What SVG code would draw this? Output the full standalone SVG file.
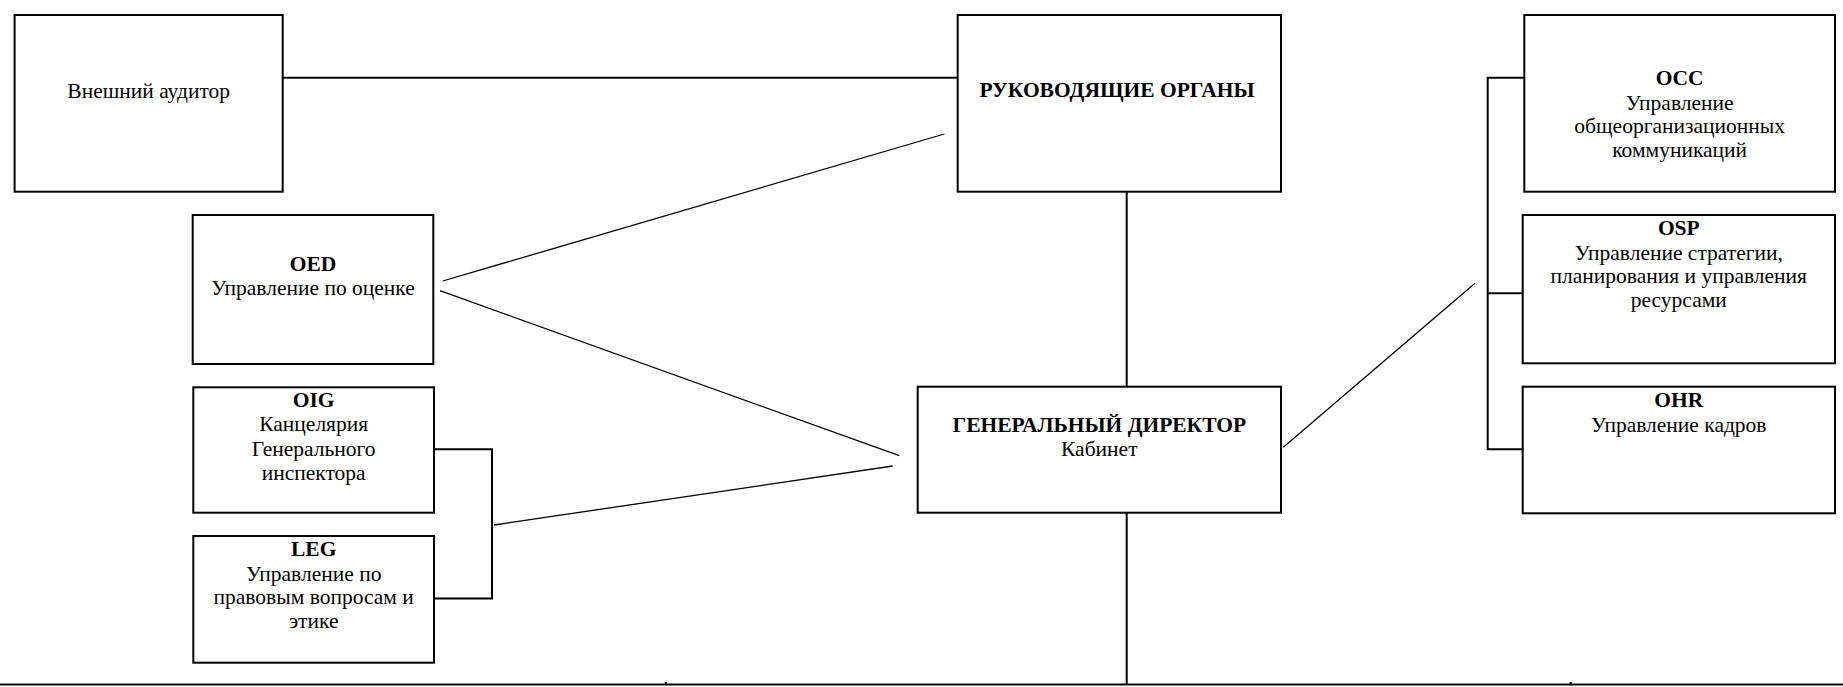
<svg xmlns="http://www.w3.org/2000/svg" width="1843" height="687" viewBox="0 0 1843 687">
<style>
.box{fill:#fff;stroke:#000;stroke-width:2}
.ln{fill:none;stroke:#000;stroke-width:2}
.dg{fill:none;stroke:#000;stroke-width:1.3}
.t{font-family:'Liberation Serif','Times New Roman',serif;font-size:21.5px;fill:#000;text-anchor:middle}
.b{font-weight:bold}
</style>
<rect width="1843" height="687" fill="#fff"/>
<g id="connectors">
<line class="ln" x1="282.7" y1="77.7" x2="957.7" y2="77.7"/>
<line class="ln" x1="1126.7" y1="191.7" x2="1126.7" y2="386.7"/>
<line class="ln" x1="1126.7" y1="512.7" x2="1126.7" y2="684.5"/>
<line class="ln" x1="0" y1="684.5" x2="1843" y2="684.5"/>
<line class="ln" x1="665.7" y1="682" x2="665.7" y2="684.5"/>
<line class="ln" x1="1570.7" y1="682" x2="1570.7" y2="684.5"/>
<polyline class="ln" points="1524.3,77.7 1487.7,77.7 1487.7,449.3 1522.7,449.3"/>
<line class="ln" x1="1487.7" y1="293.3" x2="1522.7" y2="293.3"/>
<polyline class="ln" points="434,449.3 492,449.3 492,598.5 434,598.5"/>
<line class="dg" x1="442.7" y1="281" x2="944.3" y2="134"/>
<line class="dg" x1="440" y1="290.7" x2="899.3" y2="455.7"/>
<line class="dg" x1="494" y1="525" x2="892.7" y2="466"/>
<line class="dg" x1="1283.3" y1="447.3" x2="1475" y2="283.3"/>
</g>
<g class="t">
<g id="ext">
<rect class="box" x="14.6" y="15" width="268.1" height="176.7"/>
<text x="148.7" y="98">Внешний аудитор</text>
</g>
<g id="ro">
<rect class="box" x="957.7" y="15" width="323.3" height="176.7"/>
<text class="b" x="1117" y="96.7">РУКОВОДЯЩИЕ ОРГАНЫ</text>
</g>
<g id="occ">
<rect class="box" x="1524.3" y="15" width="310.7" height="176.7"/>
<text class="b" x="1679.7" y="85">OCC</text>
<text x="1679.7" y="110">Управление</text>
<text x="1679.7" y="133.3">общеорганизационных</text>
<text x="1679.7" y="156.7">коммуникаций</text>
</g>
<g id="oed">
<rect class="box" x="192.7" y="215" width="240.6" height="149"/>
<text class="b" x="313" y="271">OED</text>
<text x="313" y="295">Управление по оценке</text>
</g>
<g id="oig">
<rect class="box" x="193.3" y="387.3" width="240.7" height="125.4"/>
<text class="b" x="313.7" y="406.7">OIG</text>
<text x="313.7" y="431">Канцелярия</text>
<text x="313.7" y="456">Генерального</text>
<text x="313.7" y="480">инспектора</text>
</g>
<g id="leg">
<rect class="box" x="193.3" y="536" width="240.7" height="126.7"/>
<text class="b" x="313.7" y="556">LEG</text>
<text x="313.7" y="581">Управление по</text>
<text x="313.7" y="604.3">правовым вопросам и</text>
<text x="313.7" y="628.3">этике</text>
</g>
<g id="gd">
<rect class="box" x="917.7" y="386.7" width="363.3" height="126"/>
<text class="b" x="1099.3" y="431.7">ГЕНЕРАЛЬНЫЙ ДИРЕКТОР</text>
<text x="1099.3" y="456">Кабинет</text>
</g>
<g id="osp">
<rect class="box" x="1522.7" y="215" width="312.3" height="148.3"/>
<text class="b" x="1678.8" y="235">OSP</text>
<text x="1678.8" y="260">Управление стратегии,</text>
<text x="1678.8" y="283.3">планирования и управления</text>
<text x="1678.8" y="306.7">ресурсами</text>
</g>
<g id="ohr">
<rect class="box" x="1522.7" y="386.7" width="312.3" height="126.6"/>
<text class="b" x="1678.8" y="406.7">OHR</text>
<text x="1678.8" y="431.7">Управление кадров</text>
</g>
</g>
</svg>
